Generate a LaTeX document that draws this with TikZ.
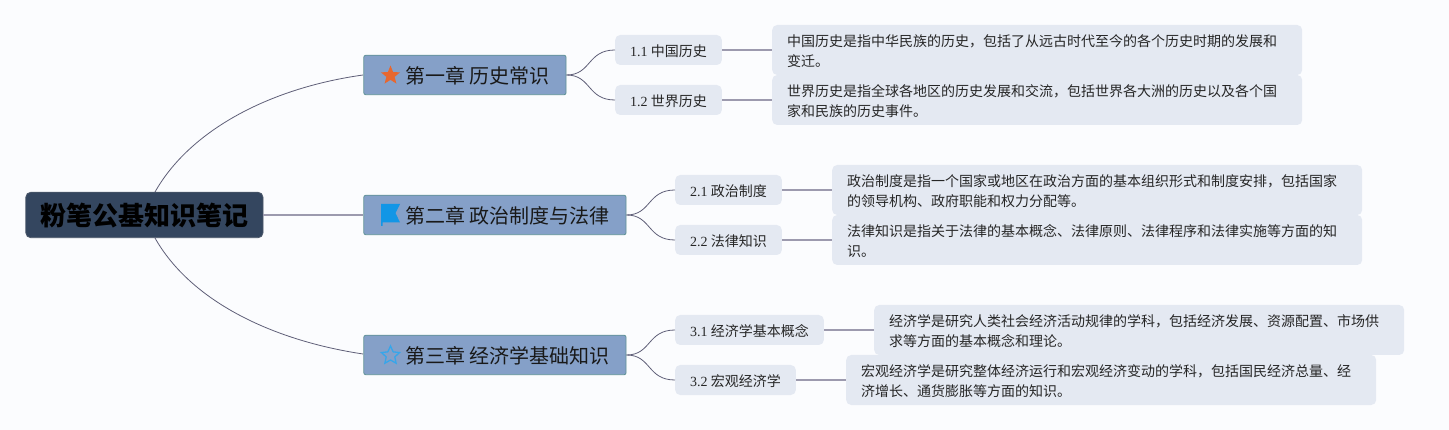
\documentclass[tikz,border=0pt]{standalone}
\usepackage{fontspec}
\setmainfont{Liberation Serif}
\newfontfamily\cjk{Noto Sans CJK SC}
\usetikzlibrary{shapes.geometric}
\definecolor{bgc}{HTML}{FBFCFE}
\definecolor{rootc}{HTML}{34465F}
\definecolor{chapc}{HTML}{85A0C8}
\definecolor{chapb}{HTML}{5F9296}
\definecolor{subc}{HTML}{E4E9F2}
\definecolor{linec}{HTML}{5F5F78}
\definecolor{thickc}{HTML}{9C9AAE}
\definecolor{orangec}{HTML}{E7672F}
\definecolor{bluec}{HTML}{1296E6}
\tikzset{
  rootnode/.style={draw=rootc!70!gray,line width=.8pt,fill=rootc,rounded corners=5pt,anchor=west,minimum width=237.2pt,minimum height=45.5pt,inner sep=0pt,text height=25pt,text depth=3.2pt,font=\cjk\fontsize{26}{30}\selectfont\bfseries,text=black},
  chapnode/.style={draw=chapb,line width=.8pt,fill=chapc,rounded corners=2pt,anchor=west,minimum height=39.5pt,inner xsep=16.2pt,inner ysep=0pt,text height=19pt,text depth=2.4pt,font=\cjk\fontsize{20}{24}\selectfont,text=black!90},
  subnode/.style={fill=subc,rounded corners=5pt,anchor=west,minimum height=30pt,inner xsep=15pt,inner ysep=0pt,text height=14pt,text depth=1pt,font=\cjk\fontsize{14}{18}\selectfont,text=black!85},
  descnode/.style={fill=subc,rounded corners=5pt,anchor=west,minimum height=50pt,text width=500pt,inner xsep=15pt,inner ysep=0pt,align=left,text height=12pt,text depth=18.4pt,font=\cjk\fontsize{14}{19.5}\selectfont,text=black!85},
  curvelink/.style={draw=linec,line width=.8pt},
  straightlink/.style={draw=thickc,line width=1.6pt},
  starfill/.style={star,star points=5,star point ratio=2.3,fill=orangec,minimum size=20pt,inner sep=0pt},
  starline/.style={star,star points=5,star point ratio=2.1,draw=bluec!85!white,line width=1.3pt,minimum size=19pt,inner sep=0pt}
}
\newcommand{\nm}[1]{{\rmfamily #1}}
\begin{document}
\begin{tikzpicture}[x=1pt,y=-1pt]
\useasboundingbox[fill=bgc] (0,0) rectangle (1449,430);
% nodes
\node[rootnode] (root) at (25.4,215) {粉笔公基知识笔记};
\node[chapnode] (c1) at (363.4,75) {\hspace*{25.4pt}第一章 历史常识};
\node[chapnode] (c2) at (363.4,215) {\hspace*{25.4pt}第二章 政治制度与法律};
\node[chapnode] (c3) at (363.4,355) {\hspace*{25.4pt}第三章 经济学基础知识};
\node[starfill] (i1) at (390.5,75.5) {};
\node[starline] (i3) at (390.5,355.5) {};
\node[subnode] (s11) at (615,50) {\nm{1.1} 中国历史};
\node[subnode] (s12) at (615,100) {\nm{1.2} 世界历史};
\node[subnode] (s21) at (675,190) {\nm{2.1} 政治制度};
\node[subnode] (s22) at (675,240) {\nm{2.2} 法律知识};
\node[subnode] (s31) at (675,330) {\nm{3.1} 经济学基本概念};
\node[subnode] (s32) at (675,380) {\nm{3.2} 宏观经济学};
\node[descnode] (d11) at (772,50) {中国历史是指中华民族的历史，包括了从远古时代至今的各个历史时期的发展和\\变迁。};
\node[descnode] (d12) at (772,100) {世界历史是指全球各地区的历史发展和交流，包括世界各大洲的历史以及各个国\\家和民族的历史事件。};
\node[descnode] (d21) at (832,190) {政治制度是指一个国家或地区在政治方面的基本组织形式和制度安排，包括国家\\的领导机构、政府职能和权力分配等。};
\node[descnode] (d22) at (832,240) {法律知识是指关于法律的基本概念、法律原则、法律程序和法律实施等方面的知\\识。};
\node[descnode] (d31) at (874,330) {经济学是研究人类社会经济活动规律的学科，包括经济发展、资源配置、市场供\\求等方面的基本概念和理论。};
\node[descnode] (d32) at (846,380) {宏观经济学是研究整体经济运行和宏观经济变动的学科，包括国民经济总量、经\\济增长、通货膨胀等方面的知识。};
% flag icon
\fill[bluec] (381,204) -- (400,204) -- (395.5,213) -- (400,222.5) -- (382.5,222.5) -- (382.5,226) -- (381,226) -- cycle;
% root connectors
\coordinate (rt) at (155,192);
\coordinate (rb) at (155,238);
\coordinate (c1a) at (363,75);
\coordinate (c3a) at (363,354);
\draw[curvelink] (rt) .. controls (190,130) and (270,88) .. (c1a);
\draw[curvelink] (rb) .. controls (190,300) and (270,340) .. (c3a);
\draw[straightlink] (root.east) -- (c2.west);
% chapter connectors
\foreach \c/\a/\b in {c1/s11/s12,c2/s21/s22,c3/s31/s32}{
  \draw[curvelink] (\c.east) .. controls +(25,0) and ([xshift=-28pt]\a.west) .. (\a.west);
  \draw[curvelink] (\c.east) .. controls +(25,0) and ([xshift=-28pt]\b.west) .. (\b.west);
}
% sub to description
\foreach \a/\b in {s11/d11,s12/d12,s21/d21,s22/d22,s31/d31,s32/d32}{
  \draw[straightlink] (\a.east) -- (\b.west);
}
\end{tikzpicture}
\end{document}
